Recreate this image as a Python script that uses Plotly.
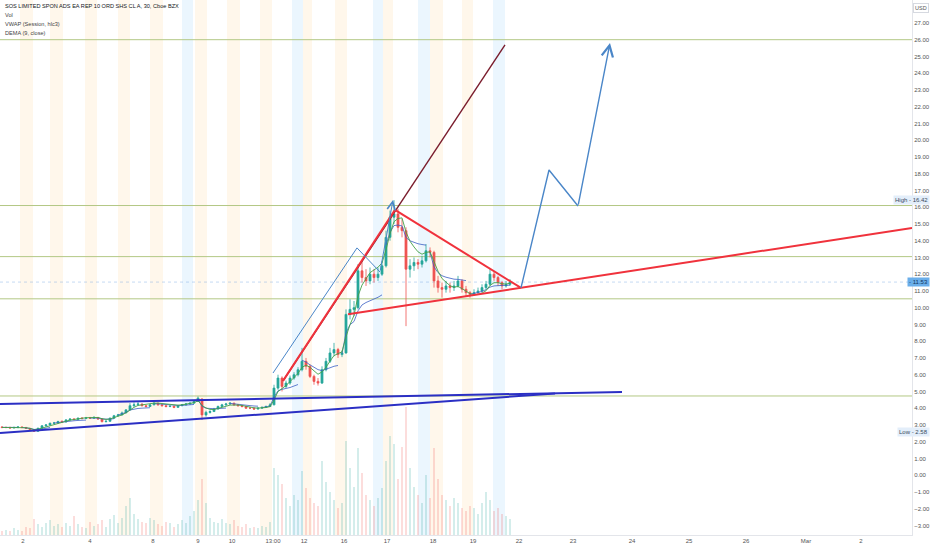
import plotly.graph_objects as go

# ---------- данные: 30m бары SOS, агрегированы по ~1.5ч ----------
opens = [2.88, 2.85, 2.86, 2.82, 2.84, 2.88, 2.85, 2.80, 2.72, 2.62,
         2.80, 2.95, 3.00, 3.10, 3.12, 3.22, 3.18, 3.30, 3.36, 3.32,
         3.42, 3.38, 3.44, 3.40, 3.45, 3.35, 3.20, 3.22, 3.40, 3.55,
         3.60, 3.72, 3.90, 4.15, 4.22, 4.25, 4.15, 4.10, 4.20, 4.30,
         4.20, 4.15, 4.10, 4.12, 4.05, 4.15, 4.20, 4.25, 4.30, 4.40,
         4.55, 3.60, 3.75, 3.80, 3.95, 4.10, 4.20, 4.25, 4.30, 4.20,
         4.15, 4.10, 4.00, 4.00, 3.95, 4.00, 4.05, 4.10, 4.20, 5.20,
         5.80, 5.30, 5.50, 5.80, 6.00, 6.30, 6.80, 6.50, 5.90, 5.60,
         5.50, 6.30, 6.80, 7.30, 7.50, 7.20, 7.30, 9.60, 9.90, 10.00,
         12.20, 11.80, 11.60, 12.00, 11.80, 12.00, 12.50, 14.20, 15.40, 15.60,
         14.80, 14.60, 12.30, 12.50, 12.70, 12.60, 12.80, 13.40, 13.30, 11.60,
         11.20, 11.10, 11.30, 11.20, 11.30, 11.60, 11.10, 10.90, 10.80, 10.90,
         11.00, 11.20, 11.40, 12.00, 11.80, 11.50, 11.30, 11.40]
highs = [2.92, 2.90, 2.88, 2.90, 2.92, 2.90, 2.88, 2.82, 2.76, 2.84,
         2.98, 3.05, 3.14, 3.18, 3.25, 3.26, 3.35, 3.40, 3.40, 3.46,
         3.45, 3.48, 3.48, 3.52, 3.47, 3.38, 3.28, 3.45, 3.60, 3.66,
         3.80, 3.95, 4.30, 4.35, 4.37, 4.28, 4.20, 4.26, 4.36, 4.32,
         4.24, 4.18, 4.18, 4.15, 4.20, 4.25, 4.30, 4.34, 4.48, 4.70,
         4.58, 3.85, 3.88, 4.02, 4.16, 4.26, 4.32, 4.36, 4.33, 4.24,
         4.20, 4.14, 4.08, 4.05, 4.06, 4.10, 4.16, 4.30, 5.40, 6.00,
         5.90, 5.65, 5.95, 6.15, 6.45, 7.60, 7.00, 6.60, 6.00, 5.80,
         6.50, 7.00, 7.60, 7.90, 7.60, 7.45, 9.90, 10.50, 10.40, 12.60,
         12.80, 12.30, 12.40, 12.30, 12.40, 12.80, 14.60, 15.80, 16.42, 15.90,
         15.30, 14.80, 12.90, 13.00, 12.90, 13.10, 13.80, 13.60, 13.40, 11.90,
         11.50, 11.60, 11.50, 11.60, 11.90, 11.70, 11.30, 11.00, 11.10, 11.20,
         11.40, 11.60, 12.30, 12.20, 11.90, 11.60, 11.60, 11.70]
lows = [2.80, 2.80, 2.78, 2.80, 2.82, 2.80, 2.76, 2.68, 2.58, 2.60,
        2.78, 2.90, 2.96, 3.04, 3.08, 3.12, 3.15, 3.26, 3.28, 3.30,
        3.34, 3.35, 3.36, 3.38, 3.30, 3.15, 3.15, 3.20, 3.38, 3.50,
        3.58, 3.70, 3.88, 4.08, 4.15, 4.10, 4.04, 4.08, 4.18, 4.15,
        4.10, 4.05, 4.06, 4.00, 4.03, 4.12, 4.16, 4.20, 4.28, 4.38,
        3.30, 3.50, 3.68, 3.78, 3.92, 4.06, 4.15, 4.20, 4.15, 4.10,
        4.05, 3.96, 3.95, 3.90, 3.92, 3.96, 4.02, 4.08, 4.18, 5.10,
        5.00, 5.20, 5.40, 5.70, 5.90, 6.20, 6.30, 5.80, 5.40, 5.35,
        5.45, 6.20, 6.70, 7.10, 7.00, 7.05, 7.25, 9.30, 9.50, 9.90,
        11.50, 11.30, 11.40, 11.50, 11.60, 11.90, 12.40, 14.00, 15.00, 14.50,
        14.20, 8.90, 11.80, 12.20, 12.30, 12.40, 12.70, 13.00, 11.20, 10.90,
        10.60, 10.90, 10.90, 11.00, 11.20, 10.90, 10.70, 10.60, 10.70, 10.80,
        10.90, 11.10, 11.30, 11.60, 11.30, 11.10, 11.20, 11.30]
closes = [2.85, 2.85, 2.82, 2.85, 2.88, 2.85, 2.80, 2.72, 2.62, 2.80,
          2.95, 3.00, 3.10, 3.12, 3.20, 3.18, 3.30, 3.35, 3.32, 3.40,
          3.38, 3.42, 3.40, 3.45, 3.35, 3.20, 3.22, 3.40, 3.55, 3.60,
          3.72, 3.90, 4.15, 4.20, 4.25, 4.15, 4.10, 4.20, 4.30, 4.20,
          4.15, 4.10, 4.12, 4.05, 4.15, 4.20, 4.25, 4.30, 4.40, 4.60,
          3.60, 3.75, 3.80, 3.95, 4.10, 4.20, 4.25, 4.30, 4.20, 4.15,
          4.10, 4.00, 4.00, 3.95, 4.00, 4.05, 4.10, 4.20, 5.20, 5.80,
          5.30, 5.50, 5.80, 6.00, 6.30, 6.80, 6.50, 5.90, 5.60, 5.50,
          6.30, 6.80, 7.30, 7.50, 7.20, 7.30, 9.60, 9.90, 10.00, 12.20,
          11.80, 11.60, 12.00, 11.80, 12.00, 12.50, 14.20, 15.40, 15.60, 14.80,
          14.60, 12.30, 12.50, 12.70, 12.60, 12.80, 13.40, 13.30, 11.60, 11.20,
          11.10, 11.30, 11.20, 11.30, 11.60, 11.10, 10.90, 10.80, 10.90, 11.00,
          11.20, 11.40, 12.00, 11.80, 11.50, 11.30, 11.40, 11.53]
volumes = [0.3, 0.4, 0.3, 0.5, 0.4, 0.3, 0.6, 0.5, 1.2, 0.8,
           0.6, 0.9, 1.1, 0.7, 0.8, 0.6, 0.9, 0.7, 1.4, 0.8,
           0.6, 0.5, 1.0, 0.7, 0.8, 1.1, 0.6, 1.2, 1.5, 0.9,
           1.3, 2.2, 2.8, 1.6, 1.2, 1.0, 0.9, 1.3, 1.1, 0.8,
           0.7, 1.0, 0.9, 0.6, 0.8, 1.1, 0.9, 1.4, 1.8, 2.6,
           4.2, 2.4, 1.3, 1.0, 0.9, 1.2, 0.9, 0.8, 1.1, 0.7,
           0.6, 0.8, 0.5, 0.6, 0.5, 0.7, 0.6, 1.0, 5.0, 4.5,
           3.8, 2.8, 2.2, 3.0, 2.6, 4.8, 3.5, 2.8, 2.4, 2.2,
           5.5, 4.0, 3.2, 2.6, 2.0, 2.4, 7.0, 5.0, 3.6, 6.5,
           4.6, 3.0, 2.6, 2.2, 2.8, 3.5, 5.5, 7.4, 6.8, 4.2,
           6.6, 9.6, 5.0, 3.6, 3.0, 2.4, 4.5, 2.8, 6.5, 4.2,
           3.0, 2.6, 2.2, 2.8, 2.4, 2.0, 1.8, 2.2, 2.0, 1.6,
           2.4, 3.2, 2.6, 1.8, 2.0, 1.6, 1.4, 1.2]
bars = list(range(len(closes)))

# начало сессий (индекс бара) для VWAP
session_starts = [0, 5, 13, 22, 29, 38, 49, 57, 65, 75, 85, 96, 107, 117]

# подписи оси времени
tick_pos = [5.25, 22, 37.75, 49, 57.5, 67.75, 75.5, 85.5, 96.25, 107.75, 117.75,
            129.25, 142.75, 157.5, 171.75, 186, 201, 214.75]
tick_text = ["2", "4", "8", "9", "10", "13:00", "12", "16", "17", "18", "19",
             "22", "23", "24", "25", "26", "Mar", "2"]

# премаркет / постмаркет
premarket = [(4.5, 7.75), (12, 15.25), (20.75, 23.75), (29, 32), (37, 40.25),
             (48.25, 51.25), (56.25, 59.5), (64.5, 67.5), (75.25, 77.5),
             (83.25, 86.25), (95.25, 97.75), (107, 110.25), (115, 117.75)]
postmarket = [(45, 47.75), (72.5, 75.25), (92.75, 95.25), (104, 107), (122.75, 125.75)]

# горизонтальные уровни
levels = [26.0, 16.1, 13.05, 10.53, 4.73]
last_price = 11.53
high_price = 16.42
low_price = 2.58

# рисунки (x в барах, y в USD)
channel_up_x, channel_up_y = [-0.5, 155], [4.25, 4.97]
channel_dn_x, channel_dn_y = [-0.5, 138.25], [2.52, 4.88]
wedge_x, wedge_y = [70.25, 125.75], [5.63, 25.69]
rise_x, rise_y = [70.25, 98.25], [5.63, 15.84]
tri_top_x, tri_top_y = [98.25, 129.75], [15.84, 11.18]
tri_low_x, tri_low_y = [86.5, 227.5], [9.61, 14.76]
path_old_x, path_old_y = [67.75, 88.75, 94.5, 97.75], [6.10, 13.57, 12.13, 16.43]
path_new_x, path_new_y = [129.75, 136.75, 144, 152], [11.18, 18.22, 16.07, 25.81]


# ---------- индикаторы ----------
def ema(vals, n):
    k = 2 / (n + 1)
    out, prev = [], None
    for v in vals:
        prev = v if prev is None else prev + k * (v - prev)
        out.append(prev)
    return out


e1 = ema(closes, 9)
e2 = ema(e1, 9)
dema = [2 * a - b for a, b in zip(e1, e2)]

vwap_x, vwap_y = [], []
bounds = session_starts + [len(closes)]
for s, e in zip(bounds[:-1], bounds[1:]):
    pv = vv = 0.0
    xs, ys = [], []
    for i in range(s, e):
        tp = (highs[i] + lows[i] + closes[i]) / 3
        pv += tp * volumes[i]
        vv += volumes[i]
        xs.append(i)
        ys.append(pv / vv)
    vwap_x += xs + [None]
    vwap_y += ys + [None]

FONT = "Liberation Sans"
GREEN, RED = "#26a69a", "#ef5350"

fig = go.Figure()

vol_col = ["rgba(38,166,154,0.2)" if c >= o else "rgba(239,83,80,0.2)"
           for o, c in zip(opens, closes)]
fig.add_trace(go.Bar(x=bars, y=volumes, marker_color=vol_col, marker_line_width=0,
                     width=0.45, yaxis="y2", showlegend=False, hoverinfo="skip"))

fig.add_trace(go.Candlestick(
    x=bars, open=opens, high=highs, low=lows, close=closes,
    increasing=dict(line=dict(color=GREEN, width=0.8), fillcolor=GREEN),
    decreasing=dict(line=dict(color=RED, width=0.8), fillcolor=RED),
    whiskerwidth=0, showlegend=False))

fig.add_trace(go.Scatter(x=vwap_x, y=vwap_y, mode="lines",
                         line=dict(color="#3b5fc4", width=0.8), showlegend=False))
fig.add_trace(go.Scatter(x=bars, y=dema, mode="lines",
                         line=dict(color="#43a047", width=0.9), showlegend=False))

def seg(xs, ys, color, width):
    fig.add_trace(go.Scatter(x=xs, y=ys, mode="lines", line=dict(color=color, width=width),
                             showlegend=False, hoverinfo="skip"))

seg(channel_up_x, channel_up_y, "#2b2fc4", 2)
seg(channel_dn_x, channel_dn_y, "#2b2fc4", 2)
seg(wedge_x, wedge_y, "#7a1c2c", 1.4)
seg(rise_x, rise_y, "#f0323c", 2)
seg(tri_top_x, tri_top_y, "#f0323c", 2)
seg(tri_low_x, tri_low_y, "#f0323c", 2)
seg(path_old_x[:-1], path_old_y[:-1], "#4a86c8", 1)
seg(path_new_x[:-1], path_new_y[:-1], "#4a86c8", 1.4)

# последние отрезки — стрелками
for xs, ys, w in [(path_old_x, path_old_y, 1), (path_new_x, path_new_y, 1.4)]:
    fig.add_annotation(x=xs[-1], y=ys[-1], ax=xs[-2], ay=ys[-2], xref="x", yref="y",
                       axref="x", ayref="y", showarrow=True, arrowhead=5, arrowsize=1.6,
                       arrowwidth=w, arrowcolor="#4a86c8", text="")

shapes = []
for a, b in premarket:
    shapes.append(dict(type="rect", xref="x", yref="paper", x0=a, x1=b, y0=0, y1=1,
                       fillcolor="rgba(255,152,0,0.08)", line_width=0, layer="below"))
for a, b in postmarket:
    shapes.append(dict(type="rect", xref="x", yref="paper", x0=a, x1=b, y0=0, y1=1,
                       fillcolor="rgba(33,150,243,0.09)", line_width=0, layer="below"))
for lv in levels:
    shapes.append(dict(type="line", xref="paper", yref="y", x0=0, x1=1, y0=lv, y1=lv,
                       line=dict(color="#b3c885", width=1), layer="below"))
shapes.append(dict(type="line", xref="paper", yref="y", x0=0, x1=1, y0=last_price, y1=last_price,
                   line=dict(color="rgba(90,150,220,0.35)", width=1, dash="dot"), layer="below"))

# легенда сверху слева
legend_lines = ["SOS LIMITED SPON ADS EA REP 10 ORD SHS CL A, 30, Cboe BZX", "Vol",
                "VWAP (Session, hlc3)", "DEMA (9, close)"]
for k, t in enumerate(legend_lines):
    fig.add_annotation(xref="paper", yref="paper", x=0.003, y=1 - 0.002 - k * 0.0168,
                       xanchor="left", yanchor="top", showarrow=False, text=t,
                       font=dict(family=FONT, size=5.6,
                                 color="#131722" if k == 0 else "#444"))

# ценовые метки справа
fig.add_annotation(xref="paper", yref="y", x=1.02, y=high_price, xanchor="right",
                   text="High - %.2f" % high_price, showarrow=False, bgcolor="#e3eefa",
                   font=dict(family=FONT, size=6, color="#3a4a5c"), borderpad=1)
fig.add_annotation(xref="paper", yref="y", x=1.02, y=low_price, xanchor="right",
                   text="Low - %.2f" % low_price, showarrow=False, bgcolor="#e3eefa",
                   font=dict(family=FONT, size=6, color="#3a4a5c"), borderpad=1)
fig.add_annotation(xref="paper", yref="y", x=1.02, y=last_price, xanchor="right",
                   text="- %.2f" % last_price, showarrow=False, bgcolor="#6aaeea",
                   font=dict(family=FONT, size=6, color="#14365c"), borderpad=1)
fig.add_annotation(xref="paper", yref="paper", x=1.0185, y=0.995, xanchor="right", yanchor="top",
                   text="USD", showarrow=False, bgcolor="white", bordercolor="#d6d9e0",
                   borderwidth=1, font=dict(family=FONT, size=5.5, color="#555"), borderpad=1)

fig.update_layout(
    width=932, height=550,
    margin=dict(l=0, r=20, t=0, b=15),
    paper_bgcolor="white", plot_bgcolor="white",
    shapes=shapes,
    bargap=0,
    font=dict(family=FONT, size=6, color="#555"),
    xaxis=dict(range=[-0.5, 227.5], tickvals=tick_pos, ticktext=tick_text,
               showgrid=False, zeroline=False, showline=True, linecolor="#e3e5ea",
               ticks="", rangeslider=dict(visible=False), tickfont=dict(size=6, color="#555")),
    yaxis=dict(side="right", range=[-3.57, 28.37], tickvals=list(range(-3, 28)),
               tickformat=".2f", showgrid=False, zeroline=False, showline=True,
               linecolor="#e3e5ea", ticks="", tickfont=dict(size=6, color="#555")),
    yaxis2=dict(overlaying="y", range=[0, 40], visible=False),
)

# убираем отступ body, чтобы график лёг ровно в окно
fig.write_html("out.html", config={"displayModeBar": False},
               post_script="document.body.style.margin='0';")
